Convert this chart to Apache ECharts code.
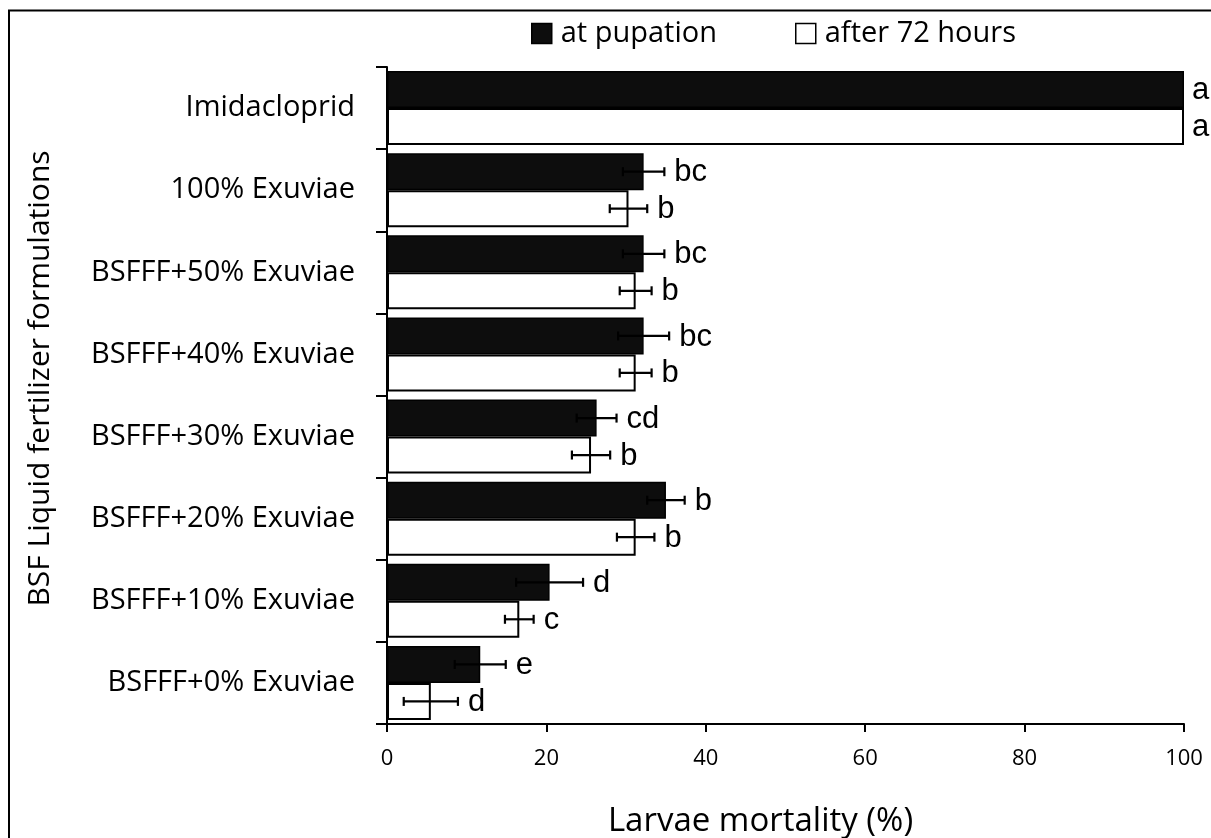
<!DOCTYPE html>
<html>
<head>
<meta charset="utf-8">
<script src="https://cdn.jsdelivr.net/npm/echarts@6/dist/echarts.min.js"></script>
<style>
  html, body { margin: 0; padding: 0; background: #fff; }
  #chart { width: 1211px; height: 838px; }
</style>
</head>
<body>
<div id="chart"></div>
<script>
const categories = ['Imidacloprid', '100% Exuviae', 'BSFFF+50% Exuviae', 'BSFFF+40% Exuviae',
  'BSFFF+30% Exuviae', 'BSFFF+20% Exuviae', 'BSFFF+10% Exuviae', 'BSFFF+0% Exuviae'];
const pupation = [100, 32.2, 32.2, 32.2, 26.3, 35.0, 20.4, 11.7];
const pupationErr = [0, 2.6, 2.6, 3.2, 2.5, 2.35, 4.2, 3.2];
const pupationLetters = ['a', 'bc', 'bc', 'bc', 'cd', 'b', 'd', 'e'];
const after72 = [100, 30.3, 31.2, 31.2, 25.6, 31.2, 16.6, 5.5];
const after72Err = [0, 2.35, 2.0, 2.0, 2.4, 2.35, 1.8, 3.4];
const after72Letters = ['a', 'b', 'b', 'b', 'b', 'b', 'c', 'd'];
const xTicks = { min: 0, max: 100, interval: 20 };

const chart = echarts.init(document.getElementById('chart'));
const FONT = '"Open Sans", sans-serif';

function errRender(errs, letters, side) {
  return function (params, api) {
    const i = params.dataIndex;
    const v = api.value(0), c = api.value(1);
    const e = errs[i];
    const center = api.coord([v, c]);
    const band = api.size([0, 1])[1];
    const bw = band * 0.9 / 2;
    const y = center[1] + side * bw / 2;
    const children = [];
    let labelX = center[0] + 8;
    if (e > 0) {
      const lo = api.coord([v - e, c])[0];
      const hi = api.coord([v + e, c])[0];
      const st = { stroke: '#000', lineWidth: 2.2 };
      children.push({ type: 'line', shape: { x1: lo, y1: y, x2: hi, y2: y }, style: st });
      children.push({ type: 'line', shape: { x1: lo, y1: y - 4.5, x2: lo, y2: y + 4.5 }, style: st });
      children.push({ type: 'line', shape: { x1: hi, y1: y - 4.5, x2: hi, y2: y + 4.5 }, style: st });
      labelX = hi + 10;
    }
    children.push({
      type: 'text',
      style: {
        text: letters[i], x: labelX, y: y + 1,
        fontSize: 31, fontFamily: '"Liberation Sans", Arial, sans-serif',
        fill: '#000', align: 'left', verticalAlign: 'middle'
      }
    });
    return { type: 'group', children: children };
  };
}

const option = {
  animation: false,
  backgroundColor: '#fff',
  graphic: [{
    type: 'rect', silent: true, z: -10,
    shape: { x: 9, y: 10.5, width: 1400, height: 1000 },
    style: { fill: 'none', stroke: '#000', lineWidth: 2 }
  }],
  legend: {
    left: 526, top: 14,
    icon: 'rect', itemWidth: 20, itemHeight: 20, itemGap: 78,
    textStyle: { fontSize: 29, fontFamily: FONT, color: '#000', padding: [0, 0, 0, 4] },
    data: [
      { name: 'at pupation', itemStyle: { color: '#0d0d0d', borderColor: '#000', borderWidth: 1.5 } },
      { name: 'after 72 hours', itemStyle: { color: '#fff', borderColor: '#000', borderWidth: 1.5 } }
    ]
  },
  grid: { left: 387, right: 27, top: 67, bottom: 114, containLabel: false, outerBoundsMode: 'none' },
  xAxis: {
    type: 'value', min: xTicks.min, max: xTicks.max, interval: xTicks.interval,
    name: 'Larvae mortality (%)', nameLocation: 'middle', nameGap: 81,
    nameTextStyle: { fontSize: 33, fontFamily: FONT, color: '#000', padding: [0, 50, 0, 0] },
    axisLine: { show: true, lineStyle: { color: '#000', width: 2 } },
    axisTick: { show: true, length: 8, lineStyle: { color: '#000', width: 2 } },
    axisLabel: { fontSize: 22, fontFamily: FONT, color: '#000', margin: 24 },
    splitLine: { show: false }
  },
  yAxis: {
    type: 'category', inverse: true, data: categories,
    name: 'BSF Liquid fertilizer formulations', nameLocation: 'middle', nameGap: 332, nameRotate: 90,
    nameTextStyle: { fontSize: 30, fontFamily: FONT, color: '#000', padding: [0, 0, 0, 34] },
    axisLine: { show: true, lineStyle: { color: '#000', width: 2 } },
    axisTick: { show: true, length: 11, lineStyle: { color: '#000', width: 2 } },
    axisLabel: { fontSize: 29, fontFamily: FONT, color: '#000', margin: 32 }
  },
  series: [
    {
      name: 'at pupation', type: 'bar', data: pupation,
      barGap: '0%', barCategoryGap: '10%',
      itemStyle: { color: '#0d0d0d', borderColor: '#000', borderWidth: 1.5 }
    },
    {
      name: 'after 72 hours', type: 'bar', data: after72,
      barGap: '0%', barCategoryGap: '10%',
      itemStyle: { color: '#fff', borderColor: '#000', borderWidth: 2 }
    },
    {
      name: 'errA', type: 'custom', clip: false, z: 5,
      data: pupation.map((v, i) => [v, i]),
      encode: { x: 0, y: 1 },
      renderItem: errRender(pupationErr, pupationLetters, -1)
    },
    {
      name: 'errB', type: 'custom', clip: false, z: 5,
      data: after72.map((v, i) => [v, i]),
      encode: { x: 0, y: 1 },
      renderItem: errRender(after72Err, after72Letters, 1)
    }
  ]
};
chart.setOption(option);
</script>
</body>
</html>
